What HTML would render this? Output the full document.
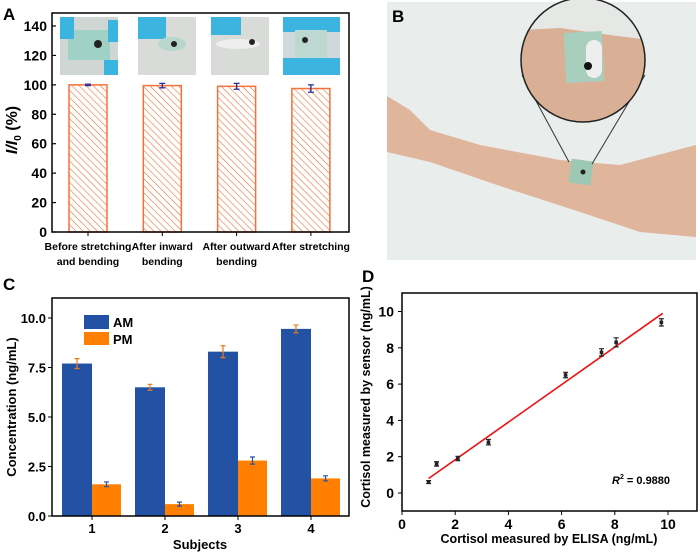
<!DOCTYPE html>
<html><head><meta charset="utf-8"><style>
body{margin:0;background:#fff;}
svg{display:block;font-family:"Liberation Sans",Arial,sans-serif;font-weight:bold;}
</style></head><body>
<svg id="fig" width="700" height="554" viewBox="0 0 700 554" xmlns="http://www.w3.org/2000/svg">
<defs>
<pattern id="hatch" patternUnits="userSpaceOnUse" width="5" height="5" patternTransform="rotate(-45)">
<line x1="0" y1="0" x2="0" y2="5" stroke="#f5703a" stroke-width="1.2"/>
</pattern>
<clipPath id="circ"><circle cx="583" cy="60" r="62"/></clipPath>
</defs>

<!-- Panel A -->
<g id="panelA">
<text x="3" y="20" font-size="17">A</text>
<rect x="60" y="17" width="58" height="58" fill="#cfd6d4"/>
<rect x="68" y="30" width="42" height="30" fill="#9fd1c6"/><circle cx="98" cy="44" r="4" fill="#222"/><rect x="60" y="17" width="14" height="22" fill="#3cb4e0"/><rect x="108" y="20" width="10" height="22" fill="#3cb4e0"/><rect x="104" y="60" width="14" height="15" fill="#3cb4e0"/>
<rect x="138" y="17" width="58" height="58" fill="#d9dbd9"/>
<rect x="138" y="17" width="28" height="22" fill="#3cb4e0"/><ellipse cx="172" cy="44" rx="14" ry="7" fill="#b7d6cc"/><circle cx="174" cy="44" r="3" fill="#222"/>
<rect x="211" y="17" width="58" height="58" fill="#d9dbd9"/>
<rect x="211" y="17" width="30" height="18" fill="#3cb4e0"/><ellipse cx="238" cy="44" rx="22" ry="5" fill="#eee"/><circle cx="252" cy="42" r="3" fill="#222"/>
<rect x="283" y="17" width="57" height="58" fill="#cfd8da"/>
<rect x="283" y="17" width="57" height="15" fill="#3cb4e0"/><rect x="283" y="58" width="57" height="17" fill="#3cb4e0"/><rect x="295" y="30" width="32" height="28" fill="#bcd8d0"/><circle cx="305" cy="40" r="3" fill="#222"/>
<g id="barsA"></g>
<rect x="52" y="13" width="297" height="219" fill="none" stroke="#000" stroke-width="1.5"/>
<text transform="translate(17,130) rotate(-90)" text-anchor="middle" font-size="16" font-style="italic">I/I<tspan font-style="normal" font-size="10" dy="4">0</tspan><tspan font-style="normal" dy="-4"> (%)</tspan></text>
</g>

<!-- Panel B -->
<g id="panelB">
<rect x="387" y="2" width="309" height="258" fill="#e9edec"/>
<path d="M387,96 L410,110 L430,130 L480,145 L560,160 L620,165 L696,145 L696,237 L640,232 L580,212 L500,186 L430,162 L387,152 Z" fill="#dfb59c"/>
<rect x="570" y="160" width="22" height="24" fill="#9cc8b4" transform="rotate(8 581 172)"/>
<circle cx="583" cy="172" r="2.5" fill="#222"/>
<line x1="522" y1="75" x2="569" y2="162" stroke="#333" stroke-width="1"/>
<line x1="645" y1="75" x2="592" y2="164" stroke="#333" stroke-width="1"/>
<g clip-path="url(#circ)"><rect x="520" y="-5" width="130" height="130" fill="#d9b095"/><path d="M520,-5 L650,-5 L650,40 L610,35 L560,28 L520,30 Z" fill="#e6e8e6"/><rect x="565" y="32" width="38" height="50" fill="#a8cfbe" transform="rotate(-3 584 57)"/><rect x="586" y="40" width="16" height="38" rx="8" fill="#eee"/><circle cx="588" cy="66" r="4" fill="#111"/></g>
<circle cx="583" cy="60" r="62" fill="none" stroke="#222" stroke-width="1.5"/>
<text x="392" y="22" font-size="17">B</text>
</g>

<!-- Panel C -->
<g id="panelC">
<text x="3" y="290" font-size="17">C</text>
<g id="barsC"></g>
<rect x="52" y="298" width="297" height="218" fill="none" stroke="#000" stroke-width="1.5"/>
<rect x="84" y="315" width="25" height="14" fill="#2352a5"/>
<text x="113" y="327" font-size="13">AM</text>
<rect x="84" y="332" width="25" height="13" fill="#ff8000"/>
<text x="113" y="344" font-size="13">PM</text>
<text transform="translate(16,407) rotate(-90)" text-anchor="middle" font-size="13">Concentration (ng/mL)</text>
<text x="200" y="549" text-anchor="middle" font-size="13">Subjects</text>
</g>

<!-- Panel D -->
<g id="panelD">
<text x="362" y="282" font-size="17">D</text>
<g id="marksD"></g>
<rect x="402" y="293" width="295" height="218" fill="none" stroke="#000" stroke-width="1.5"/>
<text x="612" y="484" font-size="11"><tspan font-style="italic">R</tspan><tspan font-size="7" dy="-5">2</tspan><tspan dy="5"> = 0.9880</tspan></text>
<text transform="translate(370,397) rotate(-90)" text-anchor="middle" font-size="12.5">Cortisol measured by sensor (ng/mL)</text>
<text x="549" y="543" text-anchor="middle" font-size="12.5">Cortisol measured by ELISA (ng/mL)</text>
</g>
</svg>
<script>
// Panel A data
const catsA = [["Before stretching","and bending"],["After inward","bending"],["After outward","bending"],["After stretching",""]];
const valsA = [100, 99.5, 99, 97.5];
const errA = [0.5, 1.5, 2, 2.5];
const ticksA = [0,20,40,60,80,100,120,140];
// Panel C data
const subjectsC = ["1","2","3","4"];
const amC = [7.7, 6.5, 8.3, 9.45];
const amErrC = [0.25, 0.15, 0.3, 0.2];
const pmC = [1.6, 0.6, 2.8, 1.9];
const pmErrC = [0.12, 0.1, 0.18, 0.13];
const ticksC = ["0.0","2.5","5.0","7.5","10.0"];
// Panel D data
const elisaD = [1.0, 1.3, 2.1, 3.25, 6.15, 7.5, 8.05, 9.75];
const sensorD = [0.6, 1.6, 1.9, 2.8, 6.5, 7.75, 8.3, 9.4];
const errD = [0.08, 0.12, 0.12, 0.15, 0.15, 0.2, 0.25, 0.2];
const fitD = [1.0, 0.8, 9.8, 9.9];
const xTicksD = [0,2,4,6,8,10];
const yTicksD = [0,2,4,6,8,10];

const NS="http://www.w3.org/2000/svg";
function mk(tag, attrs, parent){const e=document.createElementNS(NS,tag);for(const k in attrs)e.setAttribute(k,attrs[k]);parent.appendChild(e);return e;}

// Panel A
const gA=document.getElementById('barsA');
const yA=v=>232-(232-26)*v/140;
const xA=i=>88+i*74.3;
ticksA.forEach(t=>{
  const l=mk('line',{x1:52,x2:56,y1:yA(t),y2:yA(t),stroke:'#000','stroke-width':1.2},gA);
  
  
  const tx=mk('text',{x:47,y:yA(t)+5,'text-anchor':'end','font-size':14},gA);
  tx.textContent=t;
  
  
});
valsA.forEach((v,i)=>{
  const r=mk('rect',{x:xA(i)-19,y:yA(v),width:38,height:yA(0)-yA(v),fill:'url(#hatch)',stroke:'#f5703a','stroke-width':1.5},gA);
  
  
  const e=errA[i],x=xA(i);
  const eb=mk('path',{d:`M${x},${yA(v+e)}V${yA(v-e)}M${x-3},${yA(v+e)}H${x+3}M${x-3},${yA(v-e)}H${x+3}`,stroke:'#2030a0','stroke-width':1.3,fill:'none'},gA);
  
  
  const tk=mk('line',{x1:x,x2:x,y1:232,y2:236,stroke:'#000'},gA);
  
  
  catsA[i].forEach((s,j)=>{
    const t=mk('text',{x:x,y:250+j*15,'text-anchor':'middle','font-size':10.5},gA);
    t.textContent=s;
    
    
  });
});

// Panel C
const gC=document.getElementById('barsC');
const yC=v=>516-19.8*v;
const xC=i=>92+i*73;
ticksC.forEach(t=>{
  const v=parseFloat(t);
  const l=mk('line',{x1:52,x2:48,y1:yC(v),y2:yC(v),stroke:'#000'},gC);
  
  
  const tx=mk('text',{x:46,y:yC(v)+5,'text-anchor':'end','font-size':13},gC);
  tx.textContent=t;
  
  
});
function errbar(g,x,yt,yb,col,w){
  const p=mk('path',{d:`M${x},${yt}V${yb}M${x-w},${yt}H${x+w}M${x-w},${yb}H${x+w}`,stroke:col,'stroke-width':1.2,fill:'none'},g);
  
  
}
subjectsC.forEach((s,i)=>{
  const c=xC(i);
  const a=mk('rect',{x:c-30,y:yC(amC[i]),width:30,height:yC(0)-yC(amC[i]),fill:'#2352a5'},gC);
  
  
  const p=mk('rect',{x:c,y:yC(pmC[i]),width:29,height:yC(0)-yC(pmC[i]),fill:'#ff8000'},gC);
  
  
  errbar(gC,c-15,yC(amC[i]+amErrC[i]),yC(amC[i]-amErrC[i]),'#e87a1a',2.5);
  errbar(gC,c+14.5,yC(pmC[i]+pmErrC[i]),yC(pmC[i]-pmErrC[i]),'#2352a5',2.5);
  const tk=mk('line',{x1:c,x2:c,y1:516,y2:520,stroke:'#000'},gC);
  
  
  const t=mk('text',{x:c,y:533,'text-anchor':'middle','font-size':13},gC);
  t.textContent=s;
  
  
});

// Panel D
const gD=document.getElementById('marksD');
const xD=v=>402+26.6*v;
const yD=v=>493-18.15*v;
xTicksD.forEach(t=>{
  const l=mk('line',{x1:xD(t),x2:xD(t),y1:511,y2:515,stroke:'#000'},gD);
  
  
  const tx=mk('text',{x:xD(t),y:529,'text-anchor':'middle','font-size':14},gD);
  tx.textContent=t;
  
  
});
yTicksD.forEach(t=>{
  const l=mk('line',{x1:402,x2:398,y1:yD(t),y2:yD(t),stroke:'#000'},gD);
  
  
  const tx=mk('text',{x:394,y:yD(t)+5,'text-anchor':'end','font-size':14},gD);
  tx.textContent=t;
  
  
});
const fl=mk('line',{x1:xD(fitD[0]),y1:yD(fitD[1]),x2:xD(fitD[2]),y2:yD(fitD[3]),stroke:'#ee1111','stroke-width':1.6},gD);


elisaD.forEach((xv,i)=>{
  const x=xD(xv),y=yD(sensorD[i]);
  errbar(gD,x,yD(sensorD[i]+errD[i]),yD(sensorD[i]-errD[i]),'#222',2.5);
  const c=mk('rect',{x:x-1.8,y:y-1.8,width:3.6,height:3.6,fill:'#222'},gD);
  
  
});
</script>
</body></html>
